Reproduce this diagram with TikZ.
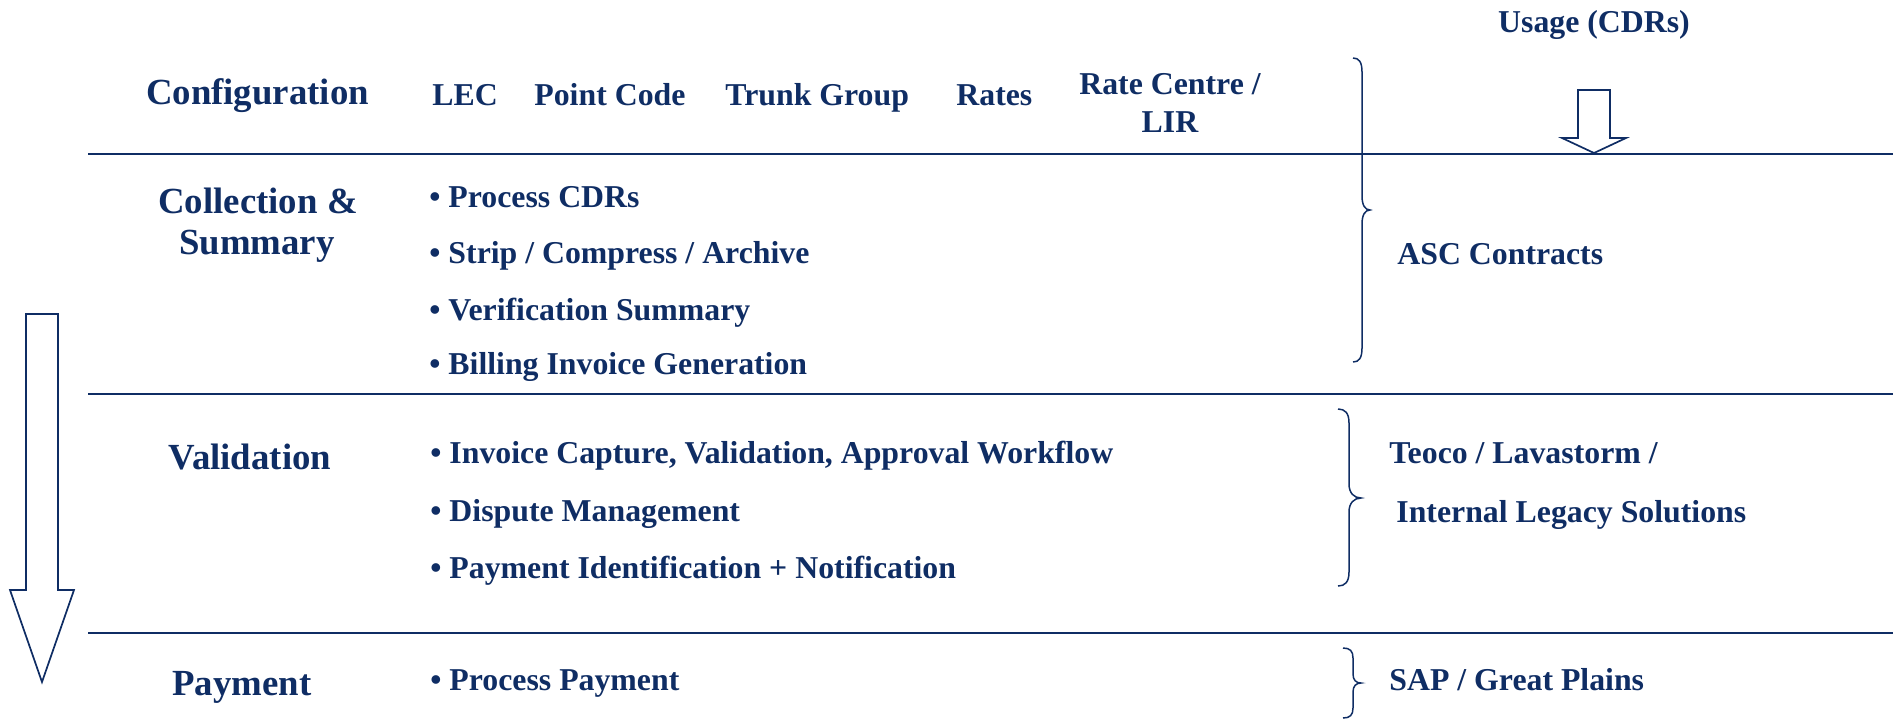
\documentclass[tikz,border=0pt]{standalone}
\usepackage{fontspec}
\setmainfont{Liberation Serif}
\definecolor{billnavy}{RGB}{15,45,100}

\begin{document}
\begin{tikzpicture}[x=0.5pt,y=0.5pt,yscale=-1,xscale=1,
  every node/.style={inner sep=0pt,text=billnavy},
  heading/.style={anchor=base,font=\fontsize{18.4}{20}\selectfont\bfseries},
  itemtext/.style={anchor=base west,font=\fontsize{15.9}{18}\selectfont\bfseries},
  rule/.style={draw=billnavy,line width=1pt},
  outline/.style={draw=billnavy,line width=0.85pt,line join=miter},
  bracket/.style={draw=billnavy,line width=0.75pt}]
\useasboundingbox (0,0) rectangle (1893,719);

%Section lines
\draw [rule] (88,154) -- (1893,154) ;
\draw [rule] (88,394) -- (1893,394) ;
\draw [rule] (88,633) -- (1893,633) ;

%Flow arrow (left)
\draw [outline] (26,314) -- (58,314) -- (58,590) -- (74,590) -- (42,682) -- (10,590) -- (26,590) -- cycle ;

%Usage arrow
\draw [outline] (1578,90) -- (1610,90) -- (1610,138) -- (1626,138) -- (1594,153) -- (1562,138) -- (1578,138) -- cycle ;
\node [itemtext,anchor=base] (usage) at (1594,32) {Usage (CDRs)};

%Headings
\node [heading] (config) at (257.5,104) {Configuration};
\node [heading] (collect) at (258,213) {Collection \&};
\node [heading] (collect2) at (257,254) {Summary};
\node [heading] (valid) at (250,469) {Validation};
\node [heading] (payment) at (242,695) {Payment};

%Configuration items
\node [itemtext] (lec) at (432,105) {LEC};
\node [itemtext] (pointcode) at (534,105) {Point Code};
\node [itemtext] (trunk) at (725,105) {Trunk Group};
\node [itemtext] (rates) at (956,105) {Rates};
\node [itemtext,anchor=base] (ratecentre) at (1170,94) {Rate Centre /};
\node [itemtext,anchor=base] (lir) at (1170,132) {LIR};

%Collection & Summary items
\node [itemtext] (cdrs) at (429,207) {• Process CDRs};
\node [itemtext] (strip) at (429,263) {• Strip / Compress / Archive};
\node [itemtext] (verif) at (429,320) {• Verification Summary};
\node [itemtext] (invgen) at (429,374) {• Billing Invoice Generation};

%Validation items
\node [itemtext] (capture) at (430,463) {• Invoice Capture, Validation, Approval Workflow};
\node [itemtext] (dispute) at (430,521) {• Dispute Management};
\node [itemtext] (payid) at (430,578) {• Payment Identification + Notification};

%Payment items
\node [itemtext] (procpay) at (430,690) {• Process Payment};

%Braces
\draw [bracket] (1353,58) .. controls (1359,58) and (1362,62) .. (1362,72) -- (1362,196) .. controls (1362,205) and (1365,210) .. (1370,210) .. controls (1365,210) and (1362,215) .. (1362,224) -- (1362,348) .. controls (1362,358) and (1359,362) .. (1353,362) ;
\draw [bracket] (1338,409) .. controls (1345,409) and (1349,413) .. (1349,423) -- (1349,484) .. controls (1349,493) and (1354,498) .. (1361,498) .. controls (1354,498) and (1349,503) .. (1349,512) -- (1349,572) .. controls (1349,582) and (1345,586) .. (1338,586) ;
\draw [bracket] (1343,648) .. controls (1350,648) and (1353,651) .. (1353,658) -- (1353,674) .. controls (1353,680) and (1356,683) .. (1361,683) .. controls (1356,683) and (1353,686) .. (1353,692) -- (1353,708) .. controls (1353,715) and (1350,718) .. (1343,718) ;

%Systems
\node [itemtext] (asc) at (1397,264) {ASC Contracts};
\node [itemtext] (teoco) at (1389,463) {Teoco / Lavastorm /};
\node [itemtext] (legacy) at (1396,522) {Internal Legacy Solutions};
\node [itemtext] (sap) at (1389,690) {SAP / Great Plains};

\end{tikzpicture}
\end{document}
